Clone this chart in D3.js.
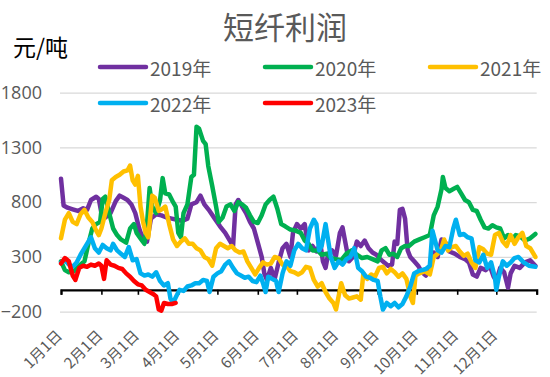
<!DOCTYPE html>
<html><head><meta charset="utf-8">
<script src="https://cdn.jsdelivr.net/npm/d3@7"></script>
<style>
html,body{margin:0;padding:0;background:#fff;}
svg{display:block;font-family:"Noto Sans CJK SC","Noto Sans",sans-serif;}
</style></head>
<body><svg id="c" width="550" height="377"></svg>
<script>
const title = "短纤利润";
const unitLabel = "元/吨";
const yTicks = [-200, 300, 800, 1300, 1800];
const monthDays = [0,31,59,90,120,151,181,212,243,273,304,334];
const monthLabels = ["1月1日","2月1日","3月1日","4月1日","5月1日","6月1日","7月1日","8月1日","9月1日","10月1日","11月1日","12月1日"];
const boundaryDays = [0,31,59,90,120,151,181,212,243,273,304,334,365];
const seriesNames = ["2019年","2020年","2021年","2022年","2023年"];
const seriesColors = ["#7030A0","#00B050","#FFC000","#00B0F0","#FF0000"];

const days2019 = [0,2,5,9,13,17,20,23,27,29,31,34,38,42,45,48,51,54,57,60,63,66,69,73,77,81,85,89,93,97,100,104,107,110,114,118,122,126,130,132,134,136,139,142,145,148,151,154,156,158,161,164,167,170,173,176,178,181,184,187,190,193,196,199,201,203,205,208,211,214,216,219,221,224,227,230,233,236,239,242,245,248,251,254,256,258,260,262,264,266,268,271,274,277,280,283,286,289,292,295,298,302,306,310,313,316,319,322,326,329,332,334,337,340,343,345,348,352,356,360,364];
const vals2019 = [1015,770,750,735,720,745,730,820,850,830,700,660,700,810,860,840,820,780,700,560,460,440,650,690,680,660,650,640,630,650,780,800,860,780,720,650,580,520,440,400,780,820,760,700,620,560,430,300,150,90,200,100,250,380,420,300,520,600,560,600,360,400,350,420,260,200,330,360,310,520,570,380,260,300,440,400,450,380,340,320,280,250,220,230,440,420,730,740,650,360,300,260,220,160,130,180,340,300,460,430,350,330,300,280,250,140,120,200,180,220,120,80,200,160,20,150,220,200,250,270,220];

const days2020 = [0,3,6,10,14,18,21,24,27,30,32,34,37,40,43,46,50,53,56,58,61,64,66,68,70,73,76,78,80,83,86,88,90,92,94,97,100,102,104,106,109,111,113,116,119,121,124,127,130,133,136,139,142,145,148,151,154,157,160,163,166,169,172,176,180,184,187,190,193,197,200,204,207,211,215,219,223,227,231,235,239,243,246,249,252,255,258,261,264,267,271,275,279,283,286,289,292,293,295,298,301,304,307,310,313,316,319,322,325,328,331,334,337,340,343,346,349,352,356,360,364];
const vals2020 = [260,180,160,170,220,260,420,560,600,620,830,850,700,560,500,460,430,560,600,520,470,420,600,930,760,700,820,1020,880,870,800,760,520,480,700,780,1030,1050,1490,1470,1360,1330,1130,950,760,620,660,760,780,720,800,780,750,680,620,610,680,780,820,850,740,600,580,550,540,520,450,420,360,360,320,330,290,280,270,330,360,320,290,300,280,260,360,380,320,330,300,380,400,400,440,460,480,500,680,760,920,1030,930,900,920,940,880,820,800,730,720,640,570,560,590,570,560,470,500,460,500,490,450,470,510];

const days2021 = [0,3,6,9,12,15,18,21,24,27,29,31,34,37,39,42,45,48,51,53,55,57,59,61,63,65,67,70,72,75,78,80,83,86,89,92,95,98,101,104,107,110,113,116,119,122,125,128,131,134,137,140,143,146,149,152,155,158,161,164,167,170,173,176,179,182,185,188,191,194,197,200,203,206,209,211,213,215,218,221,224,227,230,232,235,238,241,244,247,250,253,256,259,262,265,268,270,272,275,279,283,286,289,292,294,297,300,303,306,309,312,315,318,321,324,327,330,333,336,339,342,345,348,351,354,357,360,364];
const vals2021 = [470,640,700,620,600,690,730,660,620,540,500,560,700,820,1000,1030,1050,1080,1090,1135,1000,960,1040,760,620,520,480,860,840,720,740,760,600,460,400,440,470,420,420,380,360,300,280,220,380,420,400,380,400,360,340,350,260,200,140,200,250,230,240,300,290,230,220,170,160,140,160,210,200,90,30,60,-20,-80,-120,-180,-60,60,-50,-80,-70,-60,-90,150,100,140,120,200,210,150,190,160,120,150,100,-60,-120,130,150,170,140,300,330,380,460,360,390,400,350,310,330,250,200,390,370,330,320,500,520,440,400,500,420,480,520,400,380,300];

const days2022 = [0,3,6,9,12,15,18,21,23,26,29,32,35,38,40,43,46,49,52,55,58,61,64,67,70,73,76,79,82,84,86,88,91,94,97,100,103,106,109,112,114,117,120,123,126,129,132,135,138,141,144,147,150,153,155,157,159,162,165,167,170,173,176,179,182,185,188,191,194,196,198,200,203,205,207,210,213,216,219,222,225,228,231,234,237,240,243,245,247,250,253,256,259,262,265,268,271,274,277,280,283,285,287,289,292,295,298,301,303,306,309,312,315,318,321,324,327,330,333,334,336,339,342,345,348,351,355,359,364];
const vals2022 = [250,270,230,210,250,320,380,440,480,380,340,410,380,360,420,360,330,300,390,270,280,150,130,140,120,160,80,40,60,-80,-120,-70,0,-10,30,40,60,60,90,80,-20,120,150,170,230,260,200,150,130,110,120,80,70,130,60,-20,120,100,80,-20,150,260,220,360,420,380,360,560,640,600,360,400,600,450,300,200,260,230,280,300,380,200,170,120,110,90,80,-60,-180,-120,-150,-120,-160,-130,-60,30,150,170,180,190,220,540,450,360,340,400,390,560,640,500,510,480,470,270,250,320,200,250,110,0,120,260,220,250,290,300,250,220,210];

const days2023 = [0,3,6,9,11,14,17,20,23,26,29,31,33,35,38,41,44,47,50,53,56,59,62,65,68,71,73,75,77,79,82,85,88];
const vals2023 = [240,290,260,130,90,200,220,210,230,220,240,220,100,270,230,220,200,190,150,120,80,50,40,0,-20,-40,-60,-180,-190,-120,-130,-130,-120];

const allDays = [days2019, days2020, days2021, days2022, days2023];
const allVals = [vals2019, vals2020, vals2021, vals2022, vals2023];

const svg = d3.select("#c");
const x = d3.scaleLinear().domain([0, 365]).range([61, 536.7]);
const y = d3.scaleLinear().domain([-200, 1800]).range([311.7, 92.7]);

// gridlines + y labels
const yAxis = d3.axisLeft(y).tickValues(yTicks).tickSize(-(536.7 - 60)).tickPadding(18).tickFormat(d3.format("d"));
const gy = svg.append("g").attr("transform", "translate(60,0)").call(yAxis);
gy.select(".domain").remove();
gy.selectAll(".tick line").attr("stroke", "#d9d9d9").attr("stroke-width", 1.3);
gy.selectAll(".tick text").attr("fill", "#595959").style("font-size", "18px")
  .style("font-family", "'Open Sans','Noto Sans',sans-serif");

// x axis at zero
const xAxis = d3.axisBottom(x).tickValues(boundaryDays).tickSize(5).tickFormat("");
const gx = svg.append("g").attr("transform", `translate(0,${y(0)})`).call(xAxis);
gx.select(".domain").attr("stroke", "#000").attr("stroke-width", 2.2);
gx.selectAll(".tick line").attr("stroke", "#000").attr("stroke-width", 1.6);

// x labels (at bottom)
svg.append("g").selectAll("text").data(monthDays).join("text")
  .attr("transform", (d) => `translate(${x(d) - 2.5},332) rotate(-45)`)
  .attr("text-anchor", "end")
  .attr("dominant-baseline", "central")
  .attr("fill", "#595959")
  .style("font-size", "15px")
  .text((d, i) => monthLabels[i]);

// series
const line = d3.line().x(d => x(d[0])).y(d => y(d[1]));
allDays.forEach((ds, i) => {
  const pts = ds.map((d, j) => [d, allVals[i][j]]);
  svg.append("path").datum(pts)
    .attr("d", line)
    .attr("fill", "none")
    .attr("stroke", seriesColors[i])
    .attr("stroke-width", 4.5)
    .attr("stroke-linejoin", "round")
    .attr("stroke-linecap", "round");
});

// title
svg.append("text").attr("x", 285).attr("y", 39).attr("text-anchor", "middle")
  .attr("fill", "#595959").style("font-size", "31px").text(title);
svg.append("text").attr("x", 13).attr("y", 56).attr("fill", "#000")
  .style("font-size", "23px").text(unitLabel);

// legend
const legendPos = [[100,67],[265,67],[430,67],[100,103],[265,103]];
seriesNames.forEach((n, i) => {
  const [lx, ly] = legendPos[i];
  svg.append("line").attr("x1", lx).attr("x2", lx + 46).attr("y1", ly).attr("y2", ly)
    .attr("stroke", seriesColors[i]).attr("stroke-width", 4.5).attr("stroke-linecap", "round");
  svg.append("text").attr("x", lx + 50).attr("y", ly).attr("dominant-baseline", "central")
    .attr("fill", "#595959").style("font-size", "19px").text(n);
});
</script></body></html>
